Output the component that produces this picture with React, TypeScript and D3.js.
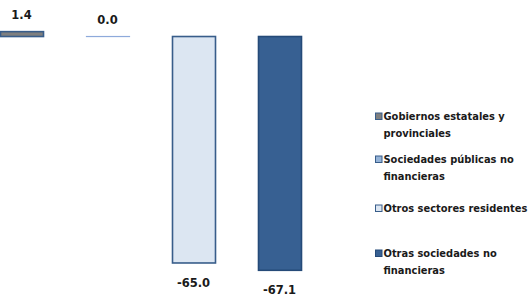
import * as React from "react";
import { scaleBand, scaleLinear } from "d3";

const categories = [
  "Gobiernos estatales y provinciales",
  "Sociedades públicas no financieras",
  "Otros sectores residentes",
  "Otras sociedades no financieras",
];
const values = [1.4, 0.0, -65.0, -67.1];
const valueLabels = ["1.4", "0.0", "-65.0", "-67.1"];
const legendLines = [
  ["Gobiernos estatales y", "provinciales"],
  ["Sociedades públicas no", "financieras"],
  ["Otros sectores residentes"],
  ["Otras sociedades no", "financieras"],
];
const fills = ["#7f7f7f", "#95b3d7", "#dce6f2", "#376092"];
const strokes = ["#385d8a", "#8eaadb", "#385d8a", "#254a78"];

const W = 530;
const H = 296;
const font = "'DejaVu Sans', sans-serif";

export default function App() {
  const xScale = scaleBand()
    .domain(categories)
    .range([0, 301])
    .paddingInner(0.5)
    .paddingOuter(0);

  const yScale = scaleLinear().domain([-70, 5]).range([280.4, 19.1]);

  // baseline of the first line of each legend entry
  const legendY = [120, 163, 212, 257];

  return (
    <svg
      width={W}
      height={H}
      style={{ position: "absolute", left: 0, top: 0, background: "#fff" }}
    >
      {categories.map((c, i) => {
        const v = values[i];
        const x0 = xScale(c) as number;
        const bw = xScale.bandwidth();
        const yTop = yScale(Math.max(0, v));
        const yBot = yScale(Math.min(0, v));
        const labelY = v >= 0 ? yTop - 13 : yBot + 24;
        return (
          <g key={c}>
            <rect
              x={x0 + 0.5}
              y={yTop}
              width={bw}
              height={Math.max(yBot - yTop, 0.01)}
              fill={fills[i]}
              stroke={strokes[i]}
              strokeWidth={v === 0 ? 1.2 : 1.6}
            />
            <text
              x={x0 + bw / 2}
              y={labelY}
              textAnchor="middle"
              fontFamily={font}
              fontWeight="bold"
              fontSize={11.5}
              fill="#1a1a1a"
            >
              {valueLabels[i]}
            </text>
          </g>
        );
      })}

      {legendLines.map((lines, i) => (
        <g key={i} transform={`translate(375,${legendY[i]})`}>
          <rect
            x={0.5}
            y={-7}
            width={6.5}
            height={6.5}
            fill={fills[i]}
            stroke={i === 3 ? strokes[3] : "#385d8a"}
            strokeWidth={1}
          />
          {lines.map((l, j) => (
            <text
              key={j}
              x={8.5}
              y={j * 16.5}
              fontFamily={font}
              fontWeight="bold"
              fontSize={9.9}
              fill="#1a1a1a"
            >
              {l}
            </text>
          ))}
        </g>
      ))}
    </svg>
  );
}
